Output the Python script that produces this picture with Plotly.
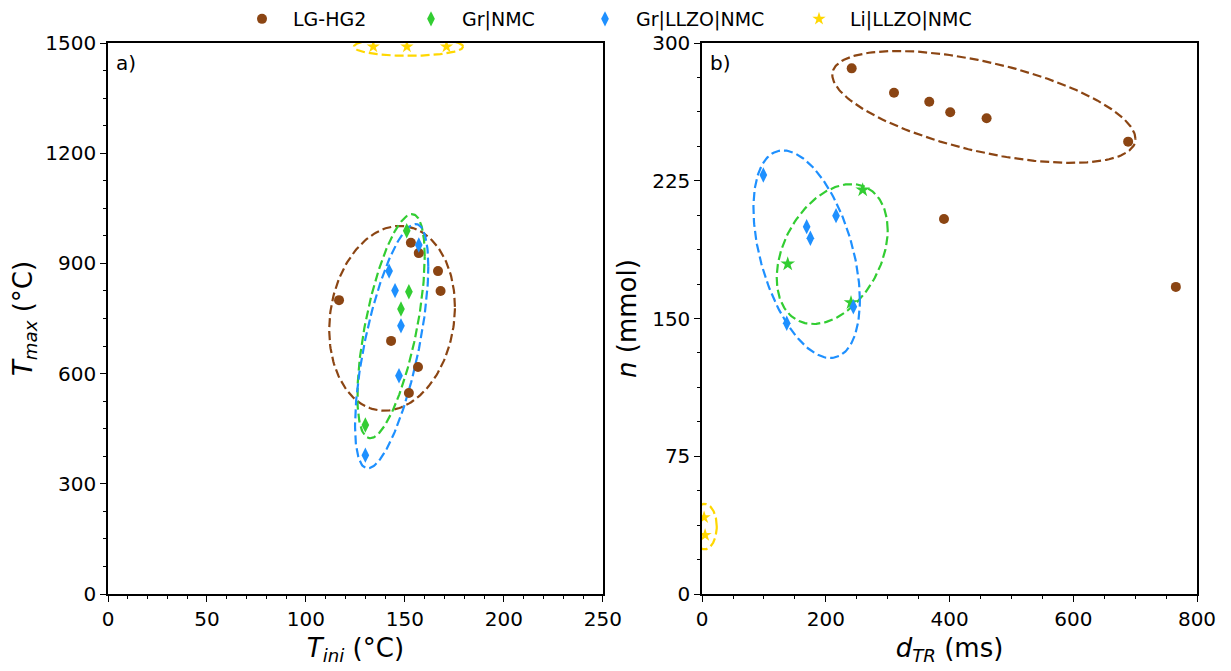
import numpy as np
import plotly.graph_objects as go
from plotly.subplots import make_subplots

# ---------- data: panel a) T_ini (°C) vs T_max (°C) ----------
lg_a_x = [116.7, 153.0, 157.0, 166.7, 168.0, 143.0, 156.6, 152.0]
lg_a_y = [800, 956, 928, 879, 825, 689, 618, 547]
grnmc_a_x = [150.9, 152.0, 148.0, 130.0]
grnmc_a_y = [989, 823, 776, 460]
grllzo_a_x = [157.0, 142.0, 145.0, 148.0, 147.0, 130.0]
grllzo_a_y = [950, 879, 826, 730, 594, 378]
li_a_x = [134.0, 151.0, 171.0]
li_a_y = [1490, 1490, 1490]

# ---------- data: panel b) d_TR (ms) vs n (mmol) ----------
lg_b_x = [241.8, 310.2, 367.2, 401.1, 459.9, 688.7, 391.0, 765.8]
lg_b_y = [286.2, 272.9, 268.0, 262.3, 259.0, 246.3, 204.2, 167.2]
grnmc_b_x = [259.6, 138.4, 240.7]
grnmc_b_y = [220.0, 179.7, 158.6]
grllzo_b_x = [99.0, 216.5, 169.0, 175.0, 244.5, 136.8]
grllzo_b_y = [228.1, 206.0, 200.0, 193.7, 156.4, 147.4]
li_b_x = [3.2, 4.8]
li_b_y = [41.7, 32.1]

# ---------- confidence ellipses (data units): centre x, centre y, half-width, half-height, tilt phase ----------
ell_a_lg = [143.5, 750.5, 31.75, 251.5, 0.124]
ell_a_grnmc = [143.0, 729.0, 17.0, 305.0, 0.67]
ell_a_grllzo = [143.3, 674.5, 18.5, 332.5, 0.71]
ell_a_li = [151.8, 1490.0, 27.6, 25.0, 0.0]
ell_b_lg = [455.5, 265.2, 245.0, 30.45, -0.61]
ell_b_grnmc = [210.3, 185.1, 89.7, 38.1, 0.35]
ell_b_grllzo = [169.0, 185.0, 86.0, 56.5, -0.46]
ell_b_li = [4.0, 36.7, 19.7, 12.4, 0.0]

names = ["LG-HG2", "Gr|NMC", "Gr|LLZO|NMC", "Li|LLZO|NMC"]
colors = ["#8B4513", "#32CD32", "#1E90FF", "#FFD700"]


def ellipse(p, n=200):
    t = np.linspace(0, 2 * np.pi, n)
    cx, cy, a, b, phi = p
    return cx + a * np.cos(t), cy + b * np.sin(t + phi)


fig = make_subplots(rows=1, cols=2, horizontal_spacing=0.0911)

sym_a = ["circle", "diamond-tall", "diamond-tall", "star"]
sym_b = ["circle", "star", "diamond-tall", "star"]
size = [10, 11, 11, 10]
legend_ids = ["legend", "legend2", "legend3", "legend4"]

pa = [(lg_a_x, lg_a_y), (grnmc_a_x, grnmc_a_y), (grllzo_a_x, grllzo_a_y), (li_a_x, li_a_y)]
pb = [(lg_b_x, lg_b_y), (grnmc_b_x, grnmc_b_y), (grllzo_b_x, grllzo_b_y), (li_b_x, li_b_y)]
ea = [ell_a_lg, ell_a_grnmc, ell_a_grllzo, ell_a_li]
eb = [ell_b_lg, ell_b_grnmc, ell_b_grllzo, ell_b_li]

dash = dict(width=2.2, dash="9px,4px")
for i in range(4):
    ex, ey = ellipse(ea[i])
    fig.add_trace(go.Scatter(x=ex, y=ey, mode="lines", showlegend=False, hoverinfo="skip",
                             line=dict(color=colors[i], **dash)), row=1, col=1)
    ex, ey = ellipse(eb[i])
    fig.add_trace(go.Scatter(x=ex, y=ey, mode="lines", showlegend=False, hoverinfo="skip",
                             line=dict(color=colors[i], **dash)), row=1, col=2)

for i in range(4):
    fig.add_trace(go.Scatter(x=pa[i][0], y=pa[i][1], mode="markers", name=names[i],
                             legend=legend_ids[i],
                             marker=dict(symbol=sym_a[i], size=size[i], color=colors[i])),
                  row=1, col=1)
    fig.add_trace(go.Scatter(x=pb[i][0], y=pb[i][1], mode="markers", name=names[i], showlegend=False,
                             marker=dict(symbol=sym_b[i], size=size[i], color=colors[i])),
                  row=1, col=2)

axis_common = dict(showline=True, linecolor="black", linewidth=1.5, mirror=True,
                   ticks="outside", ticklen=6, tickwidth=1.3, tickcolor="black",
                   showgrid=False, zeroline=False, automargin=False,
                   tickfont=dict(family="DejaVu Sans", size=20, color="black"))

fig.update_xaxes(axis_common)
fig.update_yaxes(axis_common)

minor = dict(ticks="outside", ticklen=3.5, tickcolor="black", tickwidth=1)
fig.update_xaxes(range=[0, 250], dtick=50, tick0=0, minor=dict(dtick=10, **minor),
                 title=dict(text="<i>T</i><sub><i>ini</i></sub> (°C)", font=dict(size=26), standoff=9),
                 row=1, col=1)
fig.update_yaxes(range=[0, 1500], dtick=300, tick0=0, minor=dict(dtick=75, **minor),
                 title=dict(text="<i>T</i><sub><i>max</i></sub> (°C)", font=dict(size=26), standoff=8),
                 row=1, col=1)
fig.update_xaxes(range=[0, 800], dtick=200, tick0=0, minor=dict(dtick=50, **minor),
                 title=dict(text="<i>d</i><sub><i>TR</i></sub> (ms)", font=dict(size=26), standoff=9),
                 row=1, col=2)
fig.update_yaxes(range=[0, 300], dtick=75, tick0=0, minor=dict(dtick=18.75, **minor),
                 title=dict(text="<i>n</i> (mmol)", font=dict(size=26), standoff=8),
                 row=1, col=2)

fig.add_annotation(text="a)", xref="x domain", yref="y domain", x=0.012, y=0.99,
                   xanchor="left", yanchor="top", showarrow=False, font=dict(size=20))
fig.add_annotation(text="b)", xref="x2 domain", yref="y2 domain", x=0.012, y=0.99,
                   xanchor="left", yanchor="top", showarrow=False, font=dict(size=20))

W, H = 1223, 663
leg_left_px = [223, 392, 566, 780]
legends = {}
for i, lid in enumerate(legend_ids):
    legends[lid] = dict(orientation="h", xref="container", yref="container",
                        x=leg_left_px[i] / W, xanchor="left",
                        y=1 - 11 / H, yanchor="middle",
                        font=dict(size=19), itemwidth=52, bgcolor="rgba(0,0,0,0)")

fig.update_layout(
    width=W, height=H,
    margin=dict(l=100, r=34, t=35, b=77, autoexpand=False),
    paper_bgcolor="white", plot_bgcolor="white",
    font=dict(family="DejaVu Sans", color="black"),
    **legends,
)

fig.write_html("out.html")
